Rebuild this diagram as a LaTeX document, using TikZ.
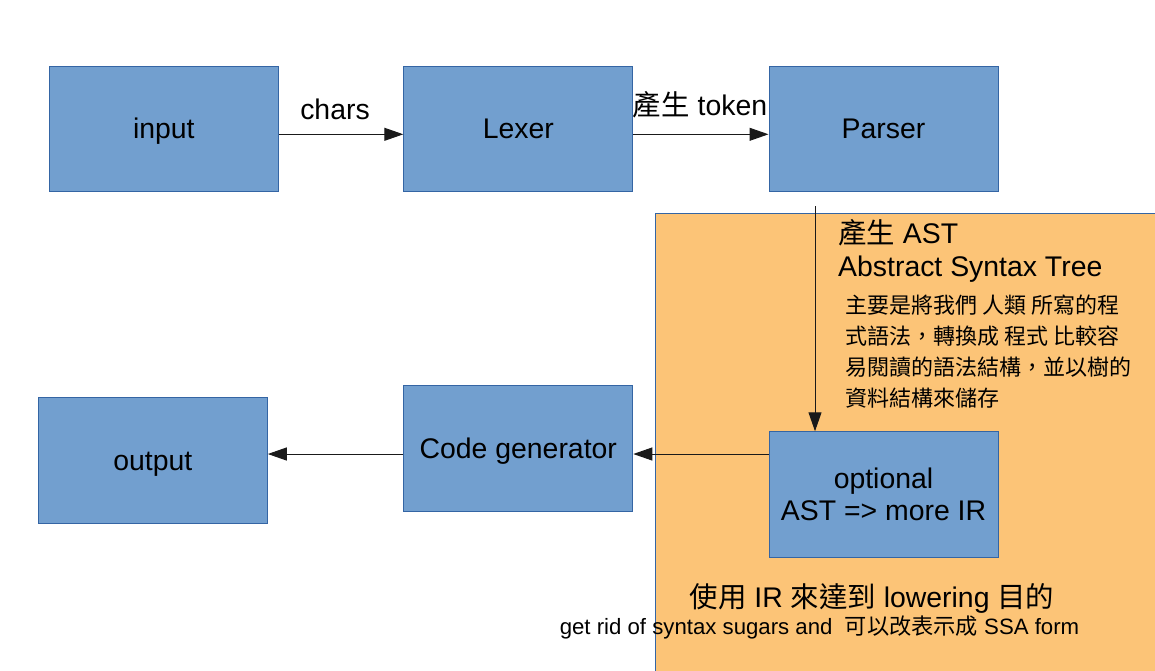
\documentclass[tikz,border=0pt]{standalone}
\usepackage{fontspec}
\setmainfont{Liberation Sans}
\newfontfamily\cjk{Noto Sans CJK TC}
\usetikzlibrary{arrows.meta,calc}
\definecolor{boxfill}{HTML}{729FCF}
\definecolor{boxline}{HTML}{3465A4}
\definecolor{orangefill}{HTML}{FCC477}
\definecolor{arrowc}{HTML}{1A1A1A}
\begin{document}
\begin{tikzpicture}[x=1pt,y=-1pt,
  boxbase/.style={draw=boxline, line width=1pt, fill=boxfill,
    minimum width=229pt, minimum height=125.5pt, inner sep=0pt,
    font=\fontsize{28.4}{32}\selectfont},
  box/.style={boxbase, text height=20pt, text depth=0pt},
  arr/.style={draw=arrowc, line width=1pt, -{Triangle[length=19pt,width=13pt]}},
  lbl/.style={inner sep=0pt, anchor=base, font=\fontsize{28.4}{32}\selectfont},
  lblw/.style={inner sep=0pt, anchor=base west, font=\fontsize{28.4}{32}\selectfont},
  zhline/.style={inner sep=0pt, anchor=base west, font=\cjk\fontsize{22}{31}\selectfont},
]
\useasboundingbox (0,0) rectangle (1155,670);
% orange region
\fill[orangefill] (655,213) rectangle (1165,680);
\draw[boxline, line width=1pt] (655,680) -- (655,213) -- (1165,213);

% boxes
\node[box] (input)   at (163.8,128.8) {input};
\node[box] (lexer)   at (518.3,128.8) {Lexer};
\node[box] (parser)  at (883.5,128.8) {Parser};
\node[box] (codegen) at (518.3,448.5) {Code generator};
\node[box] (output)  at (152.8,460.3) {output};
\node[boxbase, align=center] (opt) at (883.5,494.5) {optional\\AST => more IR};

% connectors
\draw[arr] ([yshift=-5.5pt]input.east) -- ([yshift=-5.5pt]lexer.west);
\draw[arr] ([yshift=-5.5pt]lexer.east) -- ([yshift=-5.5pt]parser.west);
\draw[arr] ([xshift=-68.5pt,yshift=-14pt]parser.south) -- ([xshift=-68.5pt]opt.north);
\draw[arr] ([yshift=40.5pt]opt.west) -- ([yshift=-5.5pt]codegen.east);
\draw[arr] ([yshift=-5.5pt]codegen.west) -- ([yshift=6.3pt]output.east);

% connector labels
\node[lbl] (chars) at (335,119.3) {chars};
\node[lbl] (tok) at (700,115) {{\cjk 產生} token};

% orange region texts
\node[lblw] (ast) at (838,243) {{\cjk 產生} AST};
\node[lblw] (abst) at (838,276) {Abstract Syntax Tree};
\node[zhline] (d1) at (845,313) {主要是將我們 人類 所寫的程};
\node[zhline] (d2) at (845,344) {式語法，轉換成 程式 比較容};
\node[zhline] (d3) at (845,375) {易閱讀的語法結構，並以樹的};
\node[zhline] (d4) at (845,406) {資料結構來儲存};

\node[lbl] (lower) at (872,607) {{\cjk 使用} IR {\cjk 來達到} lowering {\cjk 目的}};
\node[lbl, font=\fontsize{22.2}{26}\selectfont] (ssa) at (819.5,634) {get rid of syntax sugars and\ \ {\cjk 可以改表示成} SSA form};
\end{tikzpicture}
\end{document}
